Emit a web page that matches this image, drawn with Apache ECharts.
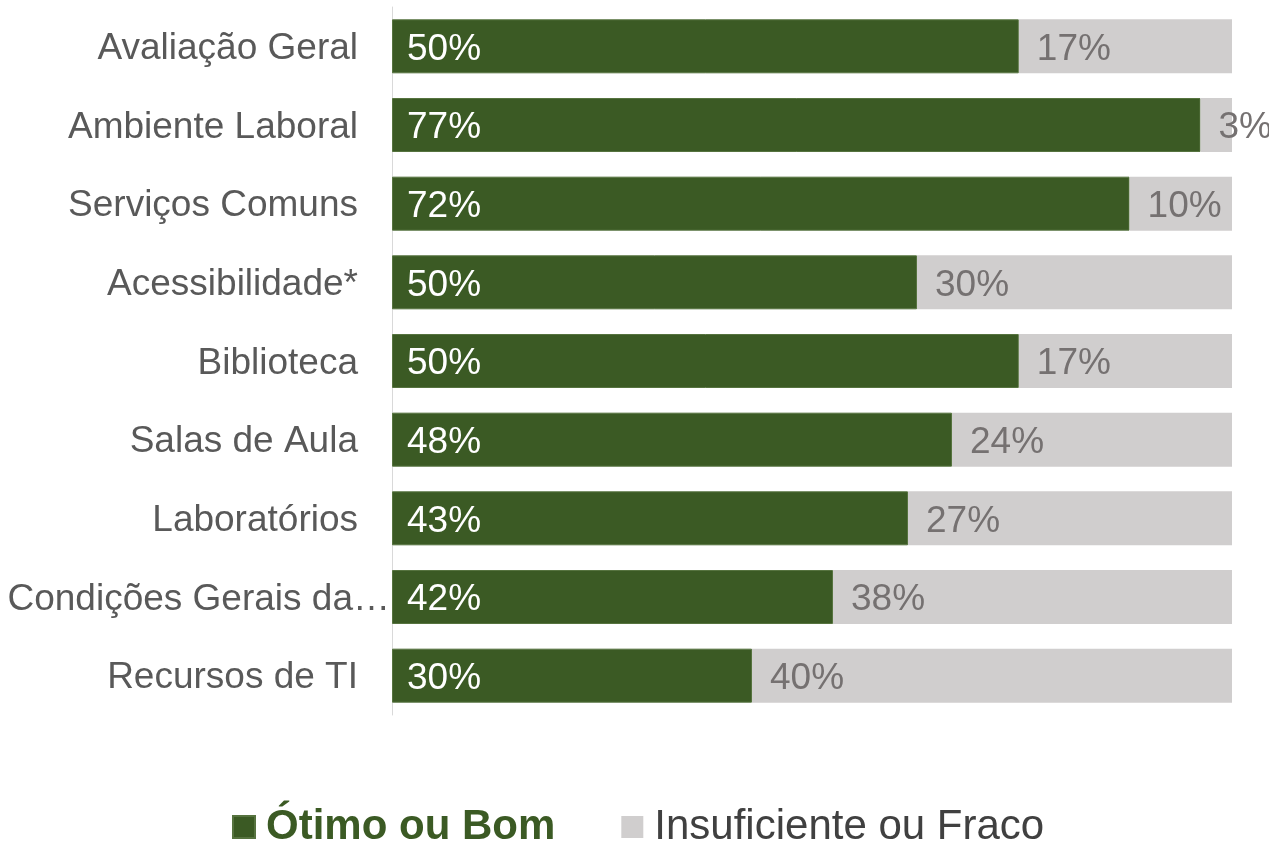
<!DOCTYPE html>
<html>
<head>
<meta charset="utf-8">
<script src="https://cdn.jsdelivr.net/npm/echarts@6/dist/echarts.min.js"></script>
<style>
  html, body { margin: 0; padding: 0; background: #fff; }
  #chart { width: 1269px; height: 842px; }
</style>
</head>
<body>
<div id="chart"></div>
<script>
const categories = ['Avaliação Geral', 'Ambiente Laboral', 'Serviços Comuns', 'Acessibilidade*', 'Biblioteca',
  'Salas de Aula', 'Laboratórios', 'Condições Gerais da…', 'Recursos de TI']
const otimo = [50, 77, 72, 50, 50, 48, 43, 42, 30]
const insuficiente = [17, 3, 10, 30, 17, 24, 27, 38, 40]

const font = 'Liberation Sans, Arial, sans-serif'

// bars are drawn as share of (otimo + insuficiente), labels show the raw value
const share = (a, b) => a.map((v, i) => v / (v + b[i]) * 100)

const chart = echarts.init(document.getElementById('chart'))
chart.setOption({
  animation: false,
  grid: { left: 392, right: 37, top: 7, bottom: 127 },
  xAxis: { type: 'value', min: 0, max: 100, show: false },
  yAxis: {
    type: 'category',
    inverse: true,
    data: categories,
    axisTick: { show: false },
    axisLine: { show: true, lineStyle: { color: '#d9d9d9', width: 1 } },
    axisLabel: {
      margin: 2,
      fontFamily: font,
      fontSize: 37,
      color: '#595959',
      formatter: v => v.endsWith('…') ? '{b|' + v + '}' : '{a|' + v + '}',
      rich: {
        a: { fontFamily: font, fontSize: 37, color: '#595959', padding: [5, 32, 0, 0] },
        b: { fontFamily: font, fontSize: 37, color: '#595959', padding: [5, 0, 0, 0] }
      }
    }
  },
  legend: {
    top: 801,
    left: 227,
    icon: 'rect',
    itemWidth: 22,
    itemHeight: 22,
    itemGap: 66,
    textStyle: { fontFamily: font, fontSize: 42, color: '#404040', padding: [0, 0, 0, 6] },
    data: [
      { name: 'Ótimo ou Bom', textStyle: { color: '#3b5a24', fontWeight: 'bold', fontSize: 42, fontFamily: font, padding: [0, 0, 0, 6] } },
      { name: 'Insuficiente ou Fraco' }
    ]
  },
  series: [
    {
      name: 'Ótimo ou Bom',
      type: 'bar',
      stack: 'total',
      barWidth: 54,
      data: share(otimo, insuficiente),
      itemStyle: { color: '#3b5a24', borderColor: '#56733f', borderWidth: 1 },
      label: {
        show: true,
        position: 'insideLeft',
        distance: 15,
        offset: [0, 3],
        fontFamily: font,
        fontSize: 37,
        color: '#ffffff',
        formatter: p => otimo[p.dataIndex] + '%'
      }
    },
    {
      name: 'Insuficiente ou Fraco',
      type: 'bar',
      stack: 'total',
      barWidth: 54,
      data: share(insuficiente, otimo),
      itemStyle: { color: '#d0cece' },
      label: {
        show: true,
        position: 'insideLeft',
        distance: 18,
        offset: [0, 3],
        fontFamily: font,
        fontSize: 37,
        color: '#757171',
        formatter: p => insuficiente[p.dataIndex] + '%'
      }
    }
  ]
})
</script>
</body>
</html>
